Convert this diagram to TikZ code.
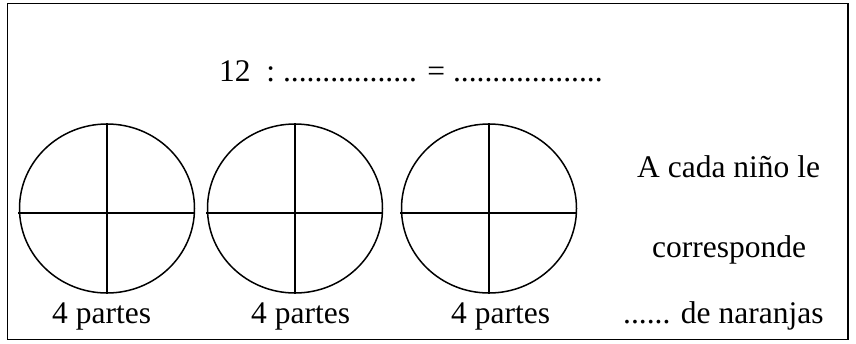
\documentclass[tikz,border=0pt]{standalone}
\usepackage{fontspec}
\setmainfont{Liberation Serif}
\usetikzlibrary{shapes.geometric}
\begin{document}
\begin{tikzpicture}[x=1pt,y=-1pt,
  txt/.style={inner sep=0pt,anchor=base west,font=\fontsize{31.5}{36}\selectfont},
  orange/.style={ellipse,draw,line width=1.5pt,minimum width=175pt,minimum height=169pt,inner sep=0pt},
  cut/.style={line width=1.4pt}]
\useasboundingbox (0,0) rectangle (856,343);
\draw[line width=1.3pt] (7.5,3.5) rectangle (848,339.5);
\node[txt] (eq) at (219,81) {12\ \ :\ ................. = ...................};
\foreach \i/\cx/\lx in {1/107/52,2/295/251,3/489/451}{
  \node[orange] (c\i) at (\cx,208.5) {};
  \coordinate (l\i) at (\cx-89,213);
  \coordinate (r\i) at (\cx+87.5,213);
  \draw[cut] (l\i) -- (r\i);
  \draw[cut] (c\i.north) -- (c\i.south);
  \node[txt] (p\i) at (\lx,323) {4 partes};
}
\node[txt] (r1) at (637,177) {A cada niño le};
\node[txt] (r2) at (652,257) {corresponde};
\node[txt] (r3) at (623,323) {...... de naranjas};
\end{tikzpicture}
\end{document}
